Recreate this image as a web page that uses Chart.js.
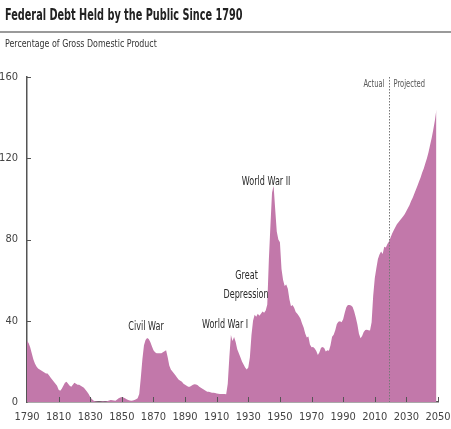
<!DOCTYPE html>
<html><head><meta charset="utf-8">
<script src="https://cdn.jsdelivr.net/npm/chart.js@4"></script>
<style>
html,body{margin:0;padding:0;background:#fff;overflow:hidden;}
#wrap{position:relative;width:451px;height:429px;}
#title{position:absolute;left:5px;top:6px;font:bold 15px "Liberation Sans Narrow","DejaVu Sans Condensed",sans-serif;color:#222;white-space:nowrap;line-height:18px;transform:scaleX(0.72);transform-origin:0 50%;}
#rule{position:absolute;left:0;top:31px;width:451px;height:1.5px;background:#9a9a9a;}
#sub{position:absolute;left:5px;top:37px;font:11px "Liberation Sans Narrow","DejaVu Sans Condensed",sans-serif;color:#333;white-space:nowrap;line-height:13px;transform:scaleX(0.8);transform-origin:0 50%;}
#box{position:absolute;left:0;top:0;width:451px;height:429px;}
</style></head>
<body>
<div id="wrap">
  <div id="box"><canvas id="c"></canvas></div>
  <div id="title">Federal Debt Held by the Public Since 1790</div>
  <div id="rule"></div>
  <div id="sub">Percentage of Gross Domestic Product</div>
</div>
<script>
// ---- data ----
const firstYear = 1790;
const actualDebt = [
  30, 29, 27, 24, 21, 19, 17.5, 16.5, 16, 15.5,          // 1790s
  15, 14.5, 14, 14, 13, 12, 11, 10, 9, 8,                 // 1800s
  6, 5.5, 6.5, 8, 9.5, 10, 9, 8, 7.5, 8.5,                // 1810s
  9.5, 9, 8.5, 8.5, 8, 7.5, 7, 6, 5, 4,                   // 1820s
  2.5, 1.5, 0.8, 0.4, 0.2, 0.1, 0.1, 0.2, 0.4, 0.3,       // 1830s
  0.3, 0.5, 0.8, 1.0, 0.9, 0.7, 0.6, 1.2, 1.8, 2.2,       // 1840s
  2.5, 2.2, 1.8, 1.3, 1.0, 0.8, 0.6, 0.7, 1.0, 1.4,       // 1850s
  1.8, 4, 12, 21, 28, 30.5, 31.5, 31, 29.5, 27.5,         // 1860s
  25.5, 24.5, 24, 24, 24, 24, 24.5, 25, 25.5, 22,         // 1870s
  18, 16, 15, 14, 13, 12, 11, 10.5, 10, 9,                // 1880s
  8.5, 8, 7.5, 7.5, 8, 8.5, 8.8, 8.6, 8.2, 7.5,           // 1890s
  7, 6.5, 6, 5.5, 5, 5, 4.8, 4.5, 4.5, 4.4,               // 1900s
  4.2, 4.1, 4, 4, 4, 3.9, 3.8, 9, 22, 33,                 // 1910s
  30, 32, 29.5, 26, 24, 22, 20, 18.5, 17, 16,             // 1920s
  17, 22, 33, 40, 43, 42, 43.5, 42.5, 43.5, 44.5,         // 1930s
  44, 45, 48, 70, 87, 103, 106.5, 95, 84, 80,             // 1940s
  78.6, 65.5, 60.1, 57.1, 57.9, 55.7, 50.6, 47.2, 47.7, 46.4, // 1950s
  44.3, 43.5, 42.3, 41.0, 38.7, 36.7, 33.7, 31.8, 32.2, 28.3, // 1960s
  27.0, 27.1, 26.4, 25.1, 23.1, 24.5, 26.7, 27.1, 26.6, 24.9, // 1970s
  25.5, 25.2, 27.9, 32.1, 33.1, 35.3, 38.4, 39.5, 39.8, 39.3, // 1980s
  40.8, 44.0, 46.6, 47.8, 47.7, 47.5, 46.8, 44.5, 41.6, 38.2, // 1990s
  33.6, 31.4, 32.5, 34.5, 35.5, 35.6, 35.3, 35.2, 39.3, 52.3, // 2000s
  60.9, 65.9, 70.4, 72.6, 74.1, 72.9, 76.4, 76.1, 77.8        // 2010-2018
];
const projectedDebt = [   // 2019-2049
  79, 81, 83, 84.5, 86, 87.5, 88.5, 89.5, 90.5, 91.5,
  92.5, 94, 95.5, 97, 99, 100.5, 102.5, 104.5, 106.5, 108.5,
  110.5, 113, 115, 117.5, 120, 123, 126.5, 130, 134, 138.5, 144
];
const xRange = [1790, 2050];
const xStep = 20;
const yRange = [0, 160];
const yStep = 40;
const dividerYear = 2018.7;
const notes = [
  {text: 'Civil War', year: 1865.3, value: 36.9},
  {text: 'World War I', year: 1915.3, value: 37.9},
  {text: 'Great', year: 1928.9, value: 62},
  {text: 'Depression', year: 1928.6, value: 52.7},
  {text: 'World War II', year: 1941.3, value: 108.3}
];
const periodLabels = ['Actual', 'Projected'];
const periodLabelValue = 156.6;

// ---- build ----
const allDebt = actualDebt.concat(projectedDebt);
const points = allDebt.map((v, i) => ({x: firstYear + i, y: v}));
const FONT = '"Liberation Sans Narrow","DejaVu Sans Condensed",sans-serif';
const fillColor = '#C278AA';

function squeezedText(ctx, text, px, py, align, sx) {
  ctx.save();
  ctx.translate(px, py);
  ctx.scale(sx, 1);
  ctx.textAlign = align;
  ctx.fillText(text, 0, 0);
  ctx.restore();
}

const decor = {
  id: 'decor',
  afterDraw(chart) {
    const {ctx, scales: {x, y}, chartArea: a} = chart;
    ctx.save();
    ctx.strokeStyle = '#555';
    ctx.lineWidth = 1;
    x.ticks.forEach(t => {
      if (t.value === xRange[0]) return;
      const px = Math.round(x.getPixelForValue(t.value)) + 0.5;
      ctx.beginPath(); ctx.moveTo(px, a.bottom); ctx.lineTo(px, a.bottom - 5); ctx.stroke();
    });
    y.ticks.forEach(t => {
      if (t.value === yRange[0]) return;
      const py = Math.round(y.getPixelForValue(t.value)) + 0.5;
      ctx.beginPath(); ctx.moveTo(a.left, py); ctx.lineTo(a.left + 4, py); ctx.stroke();
    });
    // divider
    const dx = Math.round(x.getPixelForValue(dividerYear)) + 0.5;
    ctx.strokeStyle = '#777';
    ctx.setLineDash([1.5, 1.5]);
    ctx.beginPath(); ctx.moveTo(dx, a.top); ctx.lineTo(dx, a.bottom); ctx.stroke();
    ctx.setLineDash([]);
    // annotations
    ctx.fillStyle = '#2a2a2a';
    ctx.font = '11.5px ' + FONT;
    ctx.textBaseline = 'middle';
    notes.forEach(n => {
      squeezedText(ctx, n.text, x.getPixelForValue(n.year), y.getPixelForValue(n.value), 'center', 0.78);
    });
    ctx.fillStyle = '#555';
    ctx.font = '10px ' + FONT;
    const py = y.getPixelForValue(periodLabelValue);
    squeezedText(ctx, periodLabels[0], dx - 5, py, 'right', 0.75);
    squeezedText(ctx, periodLabels[1], dx + 4, py, 'left', 0.75);
    ctx.restore();
  }
};

new Chart(document.getElementById('c'), {
  type: 'line',
  data: {
    datasets: [{
      data: points,
      fill: 'origin',
      backgroundColor: fillColor,
      borderColor: fillColor,
      borderWidth: 0,
      pointRadius: 0,
      tension: 0
    }]
  },
  options: {
    responsive: true,
    maintainAspectRatio: false,
    animation: false,
    layout: {padding: {top: 77, right: 13, bottom: 0, left: 0}},
    plugins: {legend: {display: false}, tooltip: {enabled: false}, title: {display: false}},
    scales: {
      x: {
        type: 'linear', min: xRange[0], max: xRange[1], z: 1,
        grid: {display: true, drawOnChartArea: false, drawTicks: false},
        border: {display: true, color: '#555', width: 1.5},
        ticks: {
          stepSize: xStep, maxTicksLimit: 30, autoSkip: false, maxRotation: 0,
          padding: 9, color: '#444', font: {family: FONT, size: 11},
          callback: v => String(v)
        },
        afterFit: s => { s.height = 27; s.paddingLeft = 0; s.paddingRight = 0; }
      },
      y: {
        min: yRange[0], max: yRange[1], z: 1,
        grid: {display: true, drawOnChartArea: false, drawTicks: false},
        border: {display: true, color: '#555', width: 1.5},
        ticks: {
          stepSize: yStep, padding: 9, color: '#444', font: {family: FONT, size: 11},
          callback: v => String(v)
        },
        afterFit: s => { s.width = 27; s.paddingTop = 0; s.paddingBottom = 0; }
      }
    }
  },
  plugins: [decor]
});
</script>
</body></html>
